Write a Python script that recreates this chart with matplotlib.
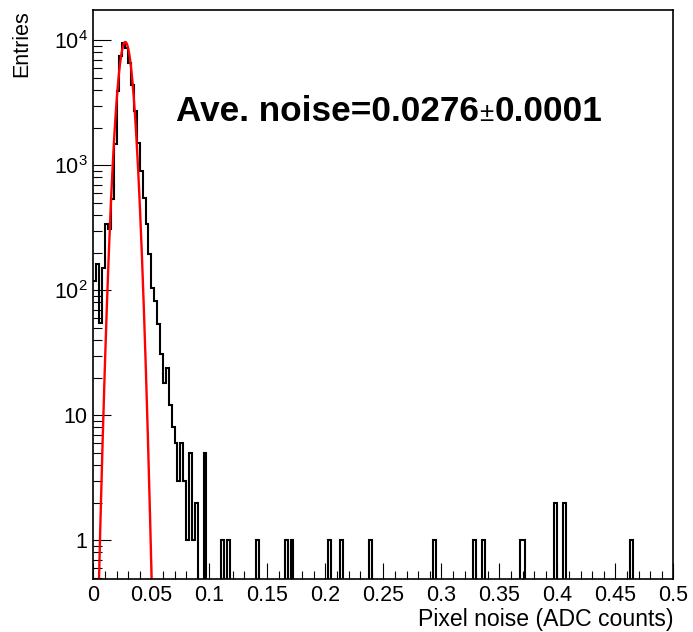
import numpy as np
import matplotlib
matplotlib.use("Agg")
import matplotlib.pyplot as plt
from matplotlib.ticker import MultipleLocator, LogLocator, FuncFormatter, NullFormatter

plt.rcParams['font.family'] = ['Liberation Sans', 'DejaVu Sans']
plt.rcParams['mathtext.fontset'] = 'custom'
plt.rcParams['mathtext.rm'] = 'Liberation Sans'
plt.rcParams['mathtext.it'] = 'Liberation Sans:italic'
plt.rcParams['mathtext.bf'] = 'Liberation Sans:bold'

# Histogram binning (ADC counts)
n_bins = 200
x_lo, x_hi = 0.0, 0.5

# Entries in the first bins, where the bulk of the distribution sits
core_counts = [118, 161, 55, 152, 337, 312, 535, 1470, 3930, 7500,
               9560, 8720, 6620, 4370, 2720, 1520, 900, 545, 337, 197,
               105, 82, 54, 31, 18, 24, 12, 8, 6, 3,
               6, 3, 1, 5, 1, 2, 0, 0, 5]
# Isolated noisy pixels in the long tail: bin index and entries
tail_bins = [44, 46, 56, 66, 68, 81, 85, 95, 117, 131, 134, 147, 148, 159, 162, 185]
tail_counts = [1, 1, 1, 1, 1, 1, 1, 1, 1, 1, 1, 1, 1, 2, 2, 1]

# Gaussian fit to the noise peak
fit_const = 9700.0
fit_mean = 0.0276
fit_mean_err = 0.0001
fit_sigma = 0.0051

edges = np.linspace(x_lo, x_hi, n_bins + 1)
counts = np.zeros(n_bins)
counts[:len(core_counts)] = core_counts
counts[tail_bins] = tail_counts

W, H = 693, 632
fig = plt.figure(figsize=(W / 100, H / 100), dpi=100)
ax = fig.add_axes([93.3 / W, 1 - 579 / H, 580 / W, 569 / H])

ax.stairs(counts, edges, color='black', linewidth=1.5, baseline=None,
          joinstyle='miter')

xf = np.linspace(x_lo, x_hi, 2000)
yf = fit_const * np.exp(-0.5 * ((xf - fit_mean) / fit_sigma) ** 2)
ax.plot(xf, yf, color='#ff0000', linewidth=1.7)

ax.set_yscale('log')
ax.set_xlim(x_lo, x_hi)
ax.set_ylim(0.49, 1.75e4)

ax.xaxis.set_major_locator(MultipleLocator(0.05))
ax.xaxis.set_minor_locator(MultipleLocator(0.01))
ax.xaxis.set_major_formatter(FuncFormatter(lambda v, p: f"{v:g}"))

def log_label(v, p):
    e = int(round(np.log10(v)))
    if e == 0:
        return "1"
    if e == 1:
        return "10"
    return r"$\mathregular{10^{%d}}$" % e

ax.yaxis.set_major_locator(LogLocator(base=10, numticks=10))
ax.yaxis.set_minor_locator(LogLocator(base=10, subs=np.arange(2, 10), numticks=20))
ax.yaxis.set_major_formatter(FuncFormatter(log_label))
ax.yaxis.set_minor_formatter(NullFormatter())

ax.tick_params(axis='x', which='major', direction='in', length=11.5, width=0.8,
               labelsize=15.5, pad=4)
ax.tick_params(axis='x', which='minor', direction='in', length=5.8, width=0.8)
ax.tick_params(axis='y', which='major', direction='in', length=13, width=0.8,
               labelsize=15.5, pad=4)
ax.tick_params(axis='y', which='minor', direction='in', length=6.5, width=0.8)

for s in ax.spines.values():
    s.set_linewidth(1.2)

ax.text(1.0, -0.0705, "Pixel noise (ADC counts)", transform=ax.transAxes,
        ha='right', va='center', fontsize=16.6)
fig.text(22 / W, 1 - 10 / H, "Entries", rotation=90, ha='center', va='top',
         fontsize=15.5)

t1 = ax.text(0.1425, 0.8054, f"Ave. noise={fit_mean:.4f}", transform=ax.transAxes,
             fontsize=25.3, fontweight='bold', ha='left', va='baseline')
t2 = ax.annotate("\u00b1", xy=(1, 0), xycoords=t1, xytext=(0.5, 1.5),
                 textcoords='offset points', fontsize=18.5, ha='left', va='bottom')
t3 = ax.annotate(f"{fit_mean_err:.4f}", xy=(1, 0), xycoords=(t2, t1),
                 xytext=(0.5, 0), textcoords='offset points', fontsize=25.3,
                 fontweight='bold', ha='left', va='bottom')

fig.savefig("out.png", dpi=100)
